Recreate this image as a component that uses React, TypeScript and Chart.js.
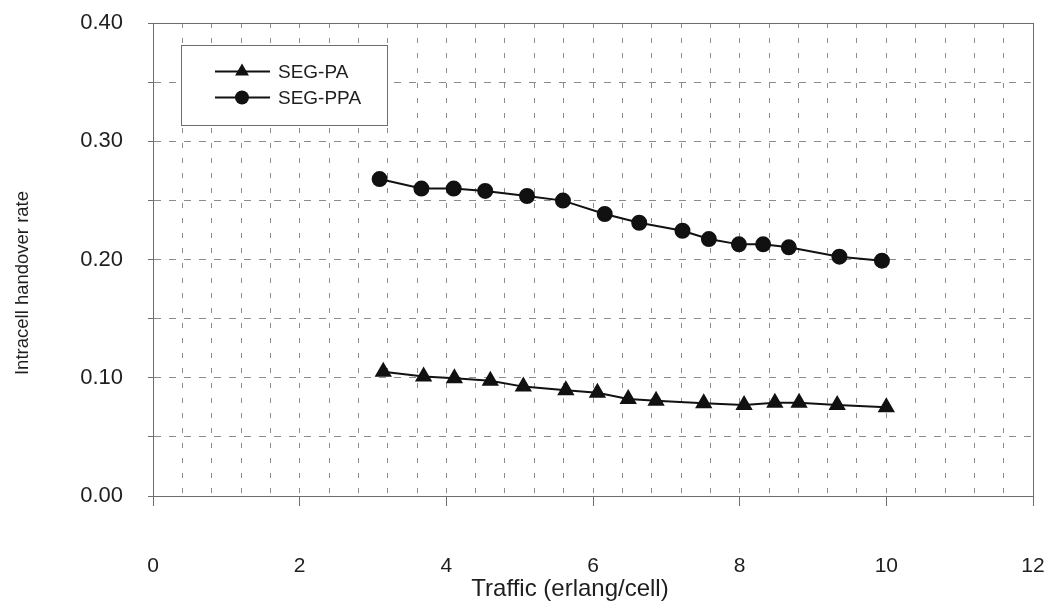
import React, { useEffect, useRef } from "react";
import { Chart, registerables } from "chart.js";

Chart.register(...registerables);

const trafficPA = [3.14, 3.69, 4.11, 4.6, 5.05, 5.63, 6.06, 6.48, 6.86, 7.51, 8.06, 8.48, 8.81, 9.33, 10.0];
const ratePA = [0.105, 0.101, 0.0995, 0.0975, 0.0925, 0.0895, 0.0873, 0.082, 0.0806, 0.0784, 0.077, 0.0789, 0.0789, 0.077, 0.075];

const trafficPPA = [3.09, 3.66, 4.1, 4.53, 5.1, 5.59, 6.16, 6.63, 7.22, 7.58, 7.99, 8.32, 8.67, 9.36, 9.94];
const ratePPA = [0.268, 0.26, 0.26, 0.258, 0.2537, 0.2498, 0.2385, 0.2311, 0.2243, 0.2173, 0.2128, 0.2128, 0.2103, 0.2024, 0.199];

const seriesNames = ["SEG-PA", "SEG-PPA"];
const xTitle = "Traffic (erlang/cell)";
const yTitle = "Intracell handover rate";

const FONT = "'Liberation Sans', Arial, sans-serif";
const TEXT = "#1e1e1e";
const GRID = "#8c8c8c";
const AXIS = "#6e6e6e";
const LINE = "#111111";

const isMult = (v: number, m: number) => Math.abs(v / m - Math.round(v / m)) < 1e-6;

const zeroPadding = (s: any) => {
  s.paddingLeft = 0;
  s.paddingRight = 0;
  s.paddingTop = 0;
  s.paddingBottom = 0;
};

const framePlugin = {
  id: "frame",
  afterDraw(chart: any) {
    const { ctx, chartArea } = chart;
    ctx.save();
    ctx.strokeStyle = AXIS;
    ctx.lineWidth = 1;
    ctx.strokeRect(chartArea.left + 0.5, chartArea.top + 0.5, chartArea.right - chartArea.left, chartArea.bottom - chartArea.top);

    // axis titles
    ctx.fillStyle = TEXT;
    ctx.textAlign = "center";
    ctx.textBaseline = "middle";
    ctx.font = `24px ${FONT}`;
    ctx.fillText(xTitle, 570, 589);
    ctx.save();
    ctx.translate(23, 283);
    ctx.rotate(-Math.PI / 2);
    ctx.font = `18.5px ${FONT}`;
    ctx.fillText(yTitle, 0, 0);
    ctx.restore();

    // legend box
    const bx = 181, by = 45, bw = 206, bh = 80;
    ctx.fillStyle = "#ffffff";
    ctx.fillRect(bx, by, bw, bh);
    ctx.strokeStyle = AXIS;
    ctx.strokeRect(bx + 0.5, by + 0.5, bw, bh);

    const rows = [71.5, 97.5];
    chart.data.datasets.forEach((ds: any, i: number) => {
      const y = rows[i];
      ctx.strokeStyle = LINE;
      ctx.lineWidth = 2;
      ctx.beginPath();
      ctx.moveTo(215, y);
      ctx.lineTo(270, y);
      ctx.stroke();
      ctx.fillStyle = LINE;
      const cx = 242;
      ctx.beginPath();
      if (ds.pointStyle === "triangle") {
        const r = 8;
        let rad = 0;
        ctx.moveTo(cx + Math.sin(rad) * r, y - Math.cos(rad) * r);
        rad += (2 * Math.PI) / 3;
        ctx.lineTo(cx + Math.sin(rad) * r, y - Math.cos(rad) * r);
        rad += (2 * Math.PI) / 3;
        ctx.lineTo(cx + Math.sin(rad) * r, y - Math.cos(rad) * r);
        ctx.closePath();
      } else {
        ctx.arc(cx, y, 7, 0, Math.PI * 2);
      }
      ctx.fill();
      ctx.fillStyle = TEXT;
      ctx.font = `19px ${FONT}`;
      ctx.textBaseline = "middle";
      ctx.textAlign = "left";
      ctx.fillText(ds.label, 278, y + 1);
    });
    ctx.restore();
  },
};

export default function App() {
  const ref = useRef<HTMLCanvasElement | null>(null);

  useEffect(() => {
    if (!ref.current) return;
    const chart = new Chart(ref.current, {
      type: "line",
      data: {
        datasets: [
          {
            label: seriesNames[0],
            data: trafficPA.map((x, i) => ({ x, y: ratePA[i] })),
            borderColor: LINE,
            backgroundColor: LINE,
            borderWidth: 2,
            pointStyle: "triangle",
            pointRadius: 8,
            pointHoverRadius: 8,
            tension: 0,
          },
          {
            label: seriesNames[1],
            data: trafficPPA.map((x, i) => ({ x, y: ratePPA[i] })),
            borderColor: LINE,
            backgroundColor: LINE,
            borderWidth: 2,
            pointStyle: "circle",
            pointRadius: 7,
            pointHoverRadius: 7,
            tension: 0,
          },
        ],
      },
      options: {
        responsive: false,
        animation: false,
        layout: { padding: { left: 0, right: 18, top: 23, bottom: 0 } },
        plugins: {
          legend: { display: false },
          tooltip: { enabled: false },
        },
        scales: {
          x: {
            type: "linear",
            min: 0,
            max: 12,
            afterFit: (s: any) => {
              s.height = 105;
              zeroPadding(s);
            },
            ticks: {
              stepSize: 0.4,
              maxTicksLimit: 100,
              autoSkip: false,
              maxRotation: 0,
              minRotation: 0,
              padding: 48,
              color: TEXT,
              font: { family: FONT, size: 21 },
              callback: (v: any) => (isMult(Number(v), 2) ? String(Math.round(Number(v))) : ""),
            },
            grid: {
              color: GRID,
              lineWidth: 1,
              tickLength: 10,
              tickColor: (c: any) => (isMult(c.tick?.value ?? 0.1, 2) ? AXIS : "rgba(0,0,0,0)"),
              tickBorderDash: [],
            },
            border: { display: true, color: AXIS, width: 1, dash: [5, 10] },
            title: { display: false },
          },
          y: {
            type: "linear",
            min: 0,
            max: 0.4,
            afterFit: (s: any) => {
              s.width = 153;
              zeroPadding(s);
            },
            ticks: {
              stepSize: 0.05,
              maxTicksLimit: 100,
              autoSkip: false,
              padding: 25,
              color: TEXT,
              font: { family: FONT, size: 22 },
              callback: (v: any) => (isMult(Number(v), 0.1) ? Number(v).toFixed(2) : ""),
            },
            grid: {
              color: GRID,
              lineWidth: 1,
              tickLength: 5,
              tickColor: AXIS,
              tickBorderDash: [],
            },
            border: { display: true, color: AXIS, width: 1, dash: [7, 8] },
            title: { display: false },
          },
        },
      },
      plugins: [framePlugin],
    } as any);
    return () => chart.destroy();
  }, []);

  return (
    <div style={{ position: "fixed", left: 0, top: 0, width: 1051, height: 601, background: "#fff" }}>
      <canvas ref={ref} width={1051} height={601} />
    </div>
  );
}
